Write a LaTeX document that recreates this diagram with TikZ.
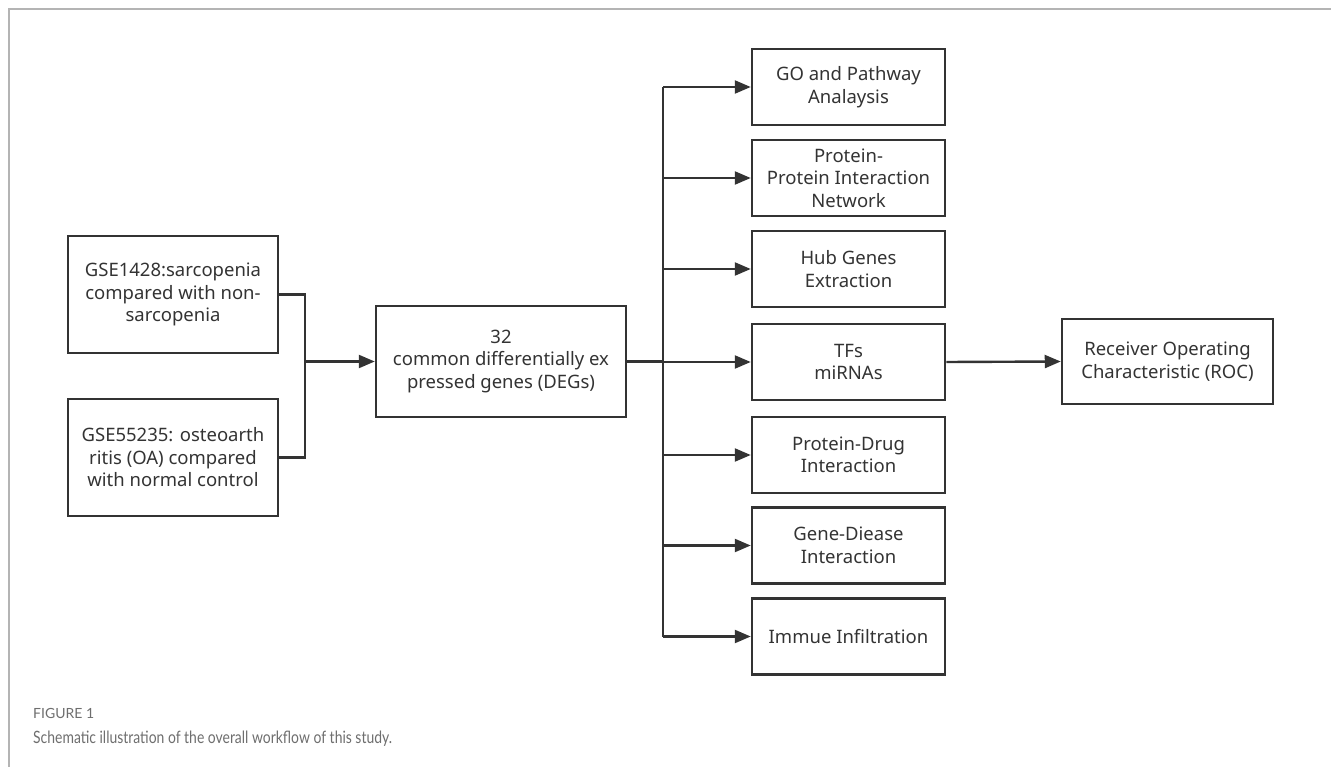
\documentclass[tikz,border=0pt]{standalone}
\usepackage{fontspec}
\setmainfont{Noto Sans}
\newfontfamily\capfont{Lato}
\newfontfamily\capnarrow[FakeStretch=0.82]{Lato}
\usetikzlibrary{arrows.meta}
\definecolor{ink}{HTML}{333333}
\definecolor{framegray}{HTML}{B4B4B4}
\definecolor{capgray}{HTML}{6E6E6E}
\tikzset{
  box/.style={draw=ink, line width=2.5pt, align=center, inner sep=2pt, text=ink,
    font=\fontsize{18.5}{22.5}\selectfont},
  conn/.style={draw=ink, line width=2.4pt},
  arr/.style={conn, -{Triangle[length=16pt,width=13pt]}},
}
\begin{document}
\begin{tikzpicture}[x=1pt,y=-1pt]
\useasboundingbox (0,0) rectangle (1331,767);
\draw[framegray, line width=2.5pt] (1331,9) -- (9,9) -- (9,767);

\node[box, minimum width=210pt, minimum height=117pt] (g1) at (173,294.5)
  {GSE1428:sarcopenia\\compared with non-\\sarcopenia};
\node[box, minimum width=210pt, minimum height=117pt] (g2) at (173,457.5)
  {GSE55235: osteoarth\\ritis (OA) compared\\with normal control};
\node[box, minimum width=250pt, minimum height=111pt] (deg) at (501,361.5)
  {32\\common differentially ex\\pressed genes (DEGs)};

\node[box, minimum width=193pt, minimum height=76pt] (go) at (848.5,87) {GO and Pathway\\Analaysis};
\node[box, minimum width=193pt, minimum height=76pt] (ppi) at (848.5,178) {Protein-\\Protein Interaction\\Network};
\node[box, minimum width=193pt, minimum height=76pt] (hub) at (848.5,269) {Hub Genes\\Extraction};
\node[box, minimum width=193pt, minimum height=76pt] (tf) at (848.5,362) {TFs\\miRNAs};
\node[box, minimum width=193pt, minimum height=76pt] (pd) at (848.5,455) {Protein-Drug\\Interaction};
\node[box, minimum width=193pt, minimum height=76pt] (gd) at (848.5,545.5) {Gene-Diease\\Interaction};
\node[box, minimum width=193pt, minimum height=76pt] (im) at (848.5,636.5) {Immue Infiltration};

\node[box, minimum width=211pt, minimum height=85pt] (roc) at (1167.5,361.5) {Receiver Operating\\Characteristic (ROC)};

\coordinate (j) at (305,361.5);
\coordinate (t) at (663,361.5);

\draw[conn] (g1.east) -| (j) |- (g2.east);
\draw[arr] (j) -- (deg.west);
\draw[conn] (deg.east) -- (t);
\draw[conn] (t |- go.west) -- (t |- im.west);
\foreach \n in {go,ppi,hub,tf,pd,gd,im}{
  \draw[arr] (t |- \n.west) -- (\n.west);
}
\draw[arr] (tf.east) -- (roc.west);

\node[anchor=base west, inner sep=0, text=capgray, font=\capfont\fontsize{14}{16}\selectfont] (fig) at (33,718) {FIGURE 1};
\node[anchor=base west, inner sep=0, text=capgray, font=\capnarrow\fontsize{17}{20}\selectfont] (cap) at (33,743) {Schematic illustration of the overall workflow of this study.};
\end{tikzpicture}
\end{document}
